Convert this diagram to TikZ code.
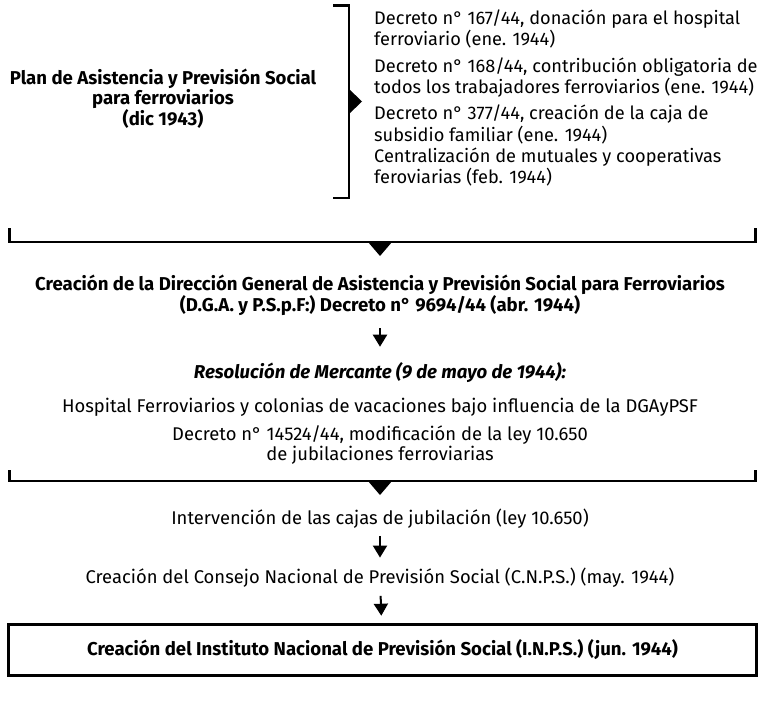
\documentclass[tikz,border=0pt]{standalone}
\usepackage{fontspec}
\setmainfont{Fira Sans}
\usetikzlibrary{arrows.meta}

\begin{document}
\begin{tikzpicture}[x=1pt, y=-1pt]
\tikzstyle{every node}=[inner sep=2pt, align=center, font=\fontsize{18.4}{21}\selectfont]
\tikzstyle{flecha}=[line width=2pt, -{Triangle[width=14pt, length=12pt]}]
\tikzstyle{llave}=[line width=2.6pt]
\useasboundingbox (0,0) rectangle (760,718);

% plan y decretos
\node[font=\fontsize{18.6}{18}\selectfont\bfseries] (plan) at (163,99)
	{Plan de Asistencia y Previsión Social\\para ferroviarios\\(dic 1943)};
\node[anchor=west, align=left, font=\fontsize{18.2}{21.5}\selectfont] (d1) at (372,29) {Decreto n° 167/44, donación para el hospital\\ferroviario (ene. 1944)};
\node[anchor=west, align=left, font=\fontsize{18.2}{21.5}\selectfont] (d2) at (372,77.5) {Decreto n° 168/44, contribución obligatoria de\\todos los trabajadores ferroviarios (ene. 1944)};
\node[anchor=west, align=left, font=\fontsize{18.2}{21.5}\selectfont] (d3) at (372,124.5) {Decreto n° 377/44, creación de la caja de\\subsidio familiar (ene. 1944)};
\node[anchor=west, align=left, font=\fontsize{18.2}{21.5}\selectfont] (d4) at (372,167) {Centralización de mutuales y cooperativas\\feroviarias (feb. 1944)};

\draw[llave] (333,5.5) -- (349,5.5) -- (349,198) -- (333,198);
\fill (349,89) -- (362,101.5) -- (349,114) -- cycle;

% primera llave
\draw[llave] (9.5,228) -- (9.5,242) -- (755.5,242) -- (755.5,228);
\fill (368,242) -- (392,242) -- (380,256) -- cycle;

\node[font=\fontsize{18.6}{21}\selectfont\bfseries] (dgaps) at (380,295.5)
	{Creación de la Dirección General de Asistencia y Previsión Social para Ferroviarios\\(D.G.A. y P.S.p.F:) Decreto n° 9694/44 (abr. 1944)};
\node[font=\fontsize{18.6}{21}\selectfont\bfseries\itshape] (resol) at (380,373) {Resolución de Mercante (9 de mayo de 1944):};
\node (hosp) at (380,407) {Hospital Ferroviarios y colonias de vacaciones bajo influencia de la DGAyPSF};
\node[font=\fontsize{18.4}{20}\selectfont] (dec) at (380,445) {Decreto n° 14524/44, modificación de la ley 10.650\\de jubilaciones ferroviarias};

% segunda llave
\draw[llave] (9.5,470) -- (9.5,481) -- (755.5,481) -- (755.5,470);
\fill (368,481) -- (392,481) -- (380,495) -- cycle;

\node (interv) at (380,519) {Intervención de las cajas de jubilación (ley 10.650)};
\node (cnps) at (380,578) {Creación del Consejo Nacional de Previsión Social (C.N.P.S.) (may. 1944)};
\node[draw, line width=2.6pt, minimum width=748pt, minimum height=51pt,
	font=\fontsize{18.6}{21}\selectfont\bfseries] (inps) at (382.5,650)
	{Creación del Instituto Nacional de Previsión Social (I.N.P.S.) (jun. 1944)};

\draw[flecha, shorten <=10pt, shorten >=14pt] (dgaps) -- (resol);
\draw[flecha, shorten <=5pt, shorten >=8.5pt] (interv) -- (cnps);
\draw[flecha, shorten <=6pt, shorten >=7.5pt] (cnps) -- (inps);
\end{tikzpicture}
\end{document}
